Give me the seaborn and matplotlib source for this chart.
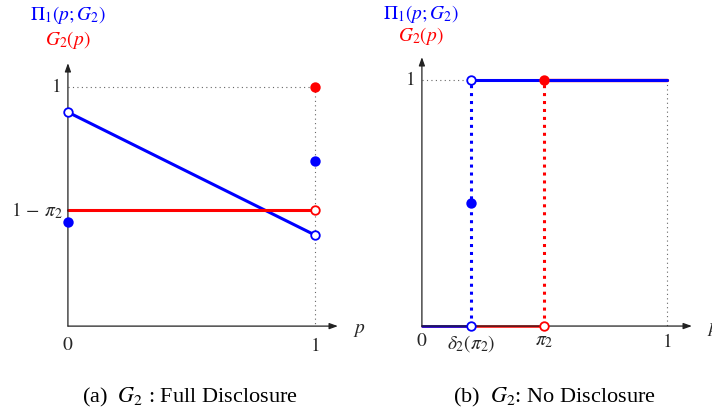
import matplotlib
matplotlib.use("Agg")
import matplotlib.pyplot as plt
import seaborn as sns
import pandas as pd

# ---------------- data ----------------
# Panel (a): G2 full disclosure
p_a = [0.0, 1.0]
pi1_a = [0.895, 0.381]          # Pi_1(p;G2), open ends
g2_a = [0.485, 0.485]           # G2(p) = 1 - pi2, open at p=1
pi1_a_dots_x = [0.0, 1.0]       # filled blue points
pi1_a_dots_y = [0.435, 0.69]
g2_a_dot_x = [1.0]              # filled red point
g2_a_dot_y = [1.0]

# Panel (b): G2 no disclosure
delta2_pi2 = 0.2
pi2_b = 0.5
pi1_b_low_x = [0.0, delta2_pi2]
pi1_b_low_y = [0.0, 0.0]
pi1_b_high_x = [delta2_pi2, 1.0]
pi1_b_high_y = [1.0, 1.0]
g2_b_low_x = [0.0, pi2_b]
g2_b_low_y = [0.0, 0.0]
g2_b_high_x = [pi2_b, 1.0]
g2_b_high_y = [1.0, 1.0]
pi1_b_mid_y = 0.5

ytick_a = ["$1$", r"$1\,-\,\pi_2$"]
xtick_b = ["$0$", r"$\delta_2(\pi_2)$", r"$\pi_2$", "$1$"]
captions = [r"(a)  $G_2$ : Full Disclosure", r"(b)  $G_2$: No Disclosure"]

# ---------------- style ----------------
sns.set_style("white")
plt.rcParams["font.family"] = ["Liberation Serif", "DejaVu Serif"]
plt.rcParams["mathtext.fontset"] = "stix"

BLUE = "#0000ff"
RED = "#ff0000"
GRAY = "#666666"
LW = 2.2
FS = 14

W, H = 712, 416
fig = plt.figure(figsize=(7.12, 4.16), dpi=100)


def axes_px(x0, x1, ytop, ybot):
    return fig.add_axes([x0 / W, 1 - ybot / H, (x1 - x0) / W, (ybot - ytop) / H])


def seg(ax, xs, ys, color, lw=LW, ls="-", z=2):
    sns.lineplot(x=xs, y=ys, color=color, lw=lw, ls=ls, ax=ax,
                 estimator=None, sort=False, legend=False, zorder=z)


def dots(ax, xs, ys, color, filled=True, z=5):
    sns.scatterplot(x=xs, y=ys, ax=ax, s=38, color=color if filled else "white",
                    edgecolor=color, linewidth=1.3, legend=False, zorder=z)


def arrows(ax, xend, yend):
    ap = dict(arrowstyle="-|>,head_length=0.5,head_width=0.18", color="#222222", lw=0.9,
              shrinkA=0, shrinkB=0)
    ax.annotate("", xy=(xend, 0), xytext=(0, 0), arrowprops=ap, zorder=4)
    ax.annotate("", xy=(0, yend), xytext=(0, 0), arrowprops=ap, zorder=4)


# ---------------- panel (a) ----------------
axa = axes_px(20, 350, 50, 345)
axa.set_xlim(-0.194, 1.142)
axa.set_ylim(-0.079, 1.155)
axa.axis("off")

dotted = (0, (1, 3))
seg(axa, [0, 1], [1, 1], GRAY, lw=0.8, ls=dotted, z=1)
seg(axa, [1, 1], [1, 0], GRAY, lw=0.8, ls=dotted, z=1)
arrows(axa, 1.093, 1.10)
seg(axa, p_a, pi1_a, BLUE)
seg(axa, p_a, g2_a, RED)
dots(axa, [p_a[0], p_a[1]], [pi1_a[0], pi1_a[1]], BLUE, filled=False)
dots(axa, [p_a[1]], [g2_a[1]], RED, filled=False)
dots(axa, pi1_a_dots_x, pi1_a_dots_y, BLUE)
dots(axa, g2_a_dot_x, g2_a_dot_y, RED)

axa.text(-0.03, 1.0, ytick_a[0], ha="right", va="center", fontsize=FS)
axa.text(-0.02, g2_a[0], ytick_a[1], ha="right", va="center", fontsize=FS)
axa.text(0, -0.045, "$0$", ha="center", va="top", fontsize=FS)
axa.text(1, -0.045, "$1$", ha="center", va="top", fontsize=FS)
axa.text(1.154, -0.02, "$p$", ha="left", va="center", fontsize=FS)

# ---------------- panel (b) ----------------
axb = axes_px(380, 712, 50, 345)
axb.set_xlim(-0.171, 1.184)
axb.set_ylim(-0.077, 1.122)
axb.axis("off")

seg(axb, [0, delta2_pi2], [1, 1], GRAY, lw=0.8, ls=dotted, z=1)
seg(axb, [1, 1], [1, 0], GRAY, lw=0.8, ls=dotted, z=1)
seg(axb, g2_b_low_x, g2_b_low_y, RED, lw=1.8, z=2)
seg(axb, pi1_b_low_x, pi1_b_low_y, BLUE, lw=1.8, z=2)
arrows(axb, 1.102, 1.093)
seg(axb, [delta2_pi2, delta2_pi2], [0, 1], BLUE, lw=2.2, ls=(0, (1, 1.6)), z=3)
seg(axb, [pi2_b, pi2_b], [0, 1], RED, lw=2.2, ls=(0, (1, 1.6)), z=3)
seg(axb, g2_b_high_x, g2_b_high_y, RED, lw=2.4, z=2)
seg(axb, pi1_b_high_x, pi1_b_high_y, BLUE, lw=LW, z=3)
dots(axb, [delta2_pi2], [0], BLUE, filled=False)
dots(axb, [delta2_pi2], [1], BLUE, filled=False)
dots(axb, [pi2_b], [0], RED, filled=False)
dots(axb, [pi2_b], [1], RED)
dots(axb, [delta2_pi2], [pi1_b_mid_y], BLUE)

axb.text(-0.03, 1.0, "$1$", ha="right", va="center", fontsize=FS)
for xv, lab in zip([0, delta2_pi2, pi2_b, 1], xtick_b):
    axb.text(xv, -0.03, lab, ha="center", va="top", fontsize=FS)
axb.text(1.163, -0.015, "$p$", ha="left", va="center", fontsize=FS)

# ---------------- titles / captions ----------------
def ftext(px, py, s, color="black", fs=FS):
    fig.text(px / W, 1 - py / H, s, ha="center", va="center", color=color, fontsize=fs)


ftext(68, 15, r"$\Pi_1(p;G_2)$", BLUE)
ftext(68, 40, r"$G_2(p)$", RED)
ftext(421, 14, r"$\Pi_1(p;G_2)$", BLUE)
ftext(421, 36, r"$G_2(p)$", RED)
ftext(190, 397, captions[0], fs=16)
ftext(554, 397, captions[1], fs=16)

fig.savefig("out.png", dpi=100)
